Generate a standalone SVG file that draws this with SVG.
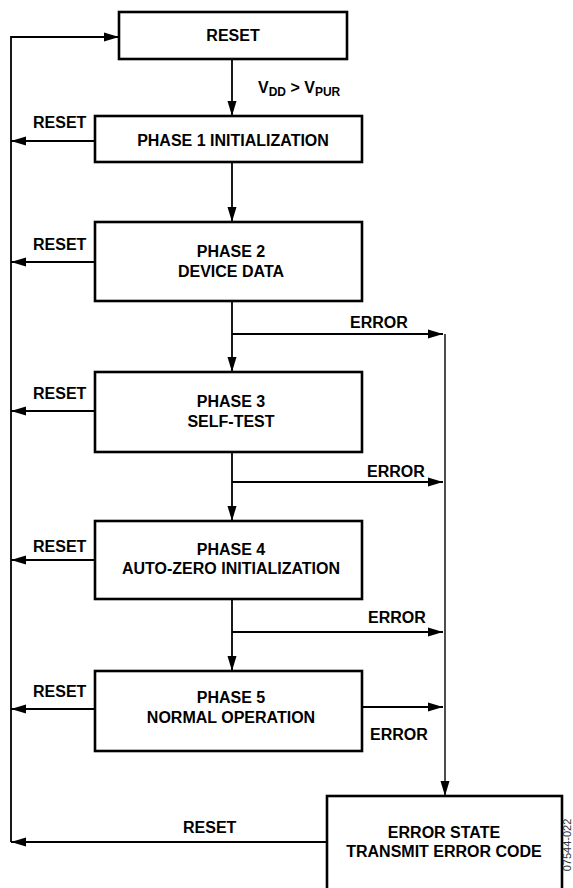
<svg xmlns="http://www.w3.org/2000/svg" width="573" height="888" viewBox="0 0 573 888">
<defs>
<marker id="ah" markerUnits="userSpaceOnUse" markerWidth="16" markerHeight="10" refX="15" refY="5" orient="auto">
<path d="M0,0.5 L15,5 L0,9.5 Z" fill="#000"/>
</marker>
<style>
.box{fill:#fff;stroke:#000;stroke-width:2.6}
.t{font-family:"Liberation Sans",Arial,sans-serif;font-weight:bold;font-size:16px;fill:#000}
.c{text-anchor:middle}
.ln{fill:none;stroke:#000;stroke-width:1.8}
.ar{fill:none;stroke:#000;stroke-width:1.8;marker-end:url(#ah)}
.thin{stroke-width:1.4}
</style>
</defs>
<rect width="573" height="888" fill="#fff"/>
<g id="connectors">
<polyline class="ar" points="11,842 11,37 119,37"/>
<line class="ar" x1="232" y1="59" x2="232" y2="116"/>
<line class="ar" x1="232" y1="162" x2="232" y2="222"/>
<line class="ar" x1="232" y1="301" x2="232" y2="372"/>
<line class="ar" x1="232" y1="452" x2="232" y2="521"/>
<line class="ar" x1="232" y1="599" x2="232" y2="671"/>
<line class="ar" x1="95" y1="141" x2="11" y2="141"/>
<line class="ar" x1="95" y1="262" x2="11" y2="262"/>
<line class="ar" x1="95" y1="411" x2="11" y2="411"/>
<line class="ar" x1="95" y1="560" x2="11" y2="560"/>
<line class="ar" x1="95" y1="709" x2="11" y2="709"/>
<line class="ar" x1="327" y1="842" x2="11" y2="842"/>
<line class="ar" x1="232" y1="334" x2="443" y2="334"/>
<line class="ar" x1="232" y1="482" x2="443" y2="482"/>
<line class="ar" x1="232" y1="632" x2="443" y2="632"/>
<line class="ar" x1="362" y1="707" x2="443" y2="707"/>
<line class="ar thin" x1="445" y1="334" x2="445" y2="796"/>
<text class="t" x="258" y="93">V<tspan font-size="12" dy="3">DD</tspan><tspan dy="-3"> &gt; V</tspan><tspan font-size="12" dy="3">PUR</tspan></text>
<text class="t" x="33" y="128">RESET</text>
<text class="t" x="33" y="250">RESET</text>
<text class="t" x="33" y="399">RESET</text>
<text class="t" x="33" y="552">RESET</text>
<text class="t" x="33" y="697">RESET</text>
<text class="t" x="183" y="833">RESET</text>
<text class="t" x="350" y="328">ERROR</text>
<text class="t" x="367" y="477">ERROR</text>
<text class="t" x="368" y="623">ERROR</text>
<text class="t" x="370" y="740">ERROR</text>
</g>
<g id="reset">
<rect class="box" x="119" y="12" width="228" height="47"/>
<text class="t c" x="233" y="41">RESET</text>
</g>
<g id="phase1">
<rect class="box" x="95" y="116" width="267" height="46"/>
<text class="t c" x="233" y="146">PHASE 1 INITIALIZATION</text>
</g>
<g id="phase2">
<rect class="box" x="95" y="222" width="267" height="79"/>
<text class="t c" x="231" y="257">PHASE 2</text>
<text class="t c" x="231" y="277">DEVICE DATA</text>
</g>
<g id="phase3">
<rect class="box" x="95" y="372" width="267" height="80"/>
<text class="t c" x="231" y="407">PHASE 3</text>
<text class="t c" x="231" y="427">SELF-TEST</text>
</g>
<g id="phase4">
<rect class="box" x="95" y="521" width="267" height="78"/>
<text class="t c" x="231" y="555">PHASE 4</text>
<text class="t c" x="231" y="574">AUTO-ZERO INITIALIZATION</text>
</g>
<g id="phase5">
<rect class="box" x="95" y="671" width="267" height="80"/>
<text class="t c" x="231" y="703">PHASE 5</text>
<text class="t c" x="231" y="723">NORMAL OPERATION</text>
</g>
<g id="error">
<rect class="box" x="327" y="796" width="235" height="110"/>
<text class="t c" x="444" y="838">ERROR STATE</text>
<text class="t c" x="444" y="857">TRANSMIT ERROR CODE</text>
</g>
<text x="571" y="845" transform="rotate(-90 571 845)" font-family="'Liberation Sans',Arial,sans-serif" font-size="11" fill="#333" text-anchor="middle">07544-022</text>
</svg>
